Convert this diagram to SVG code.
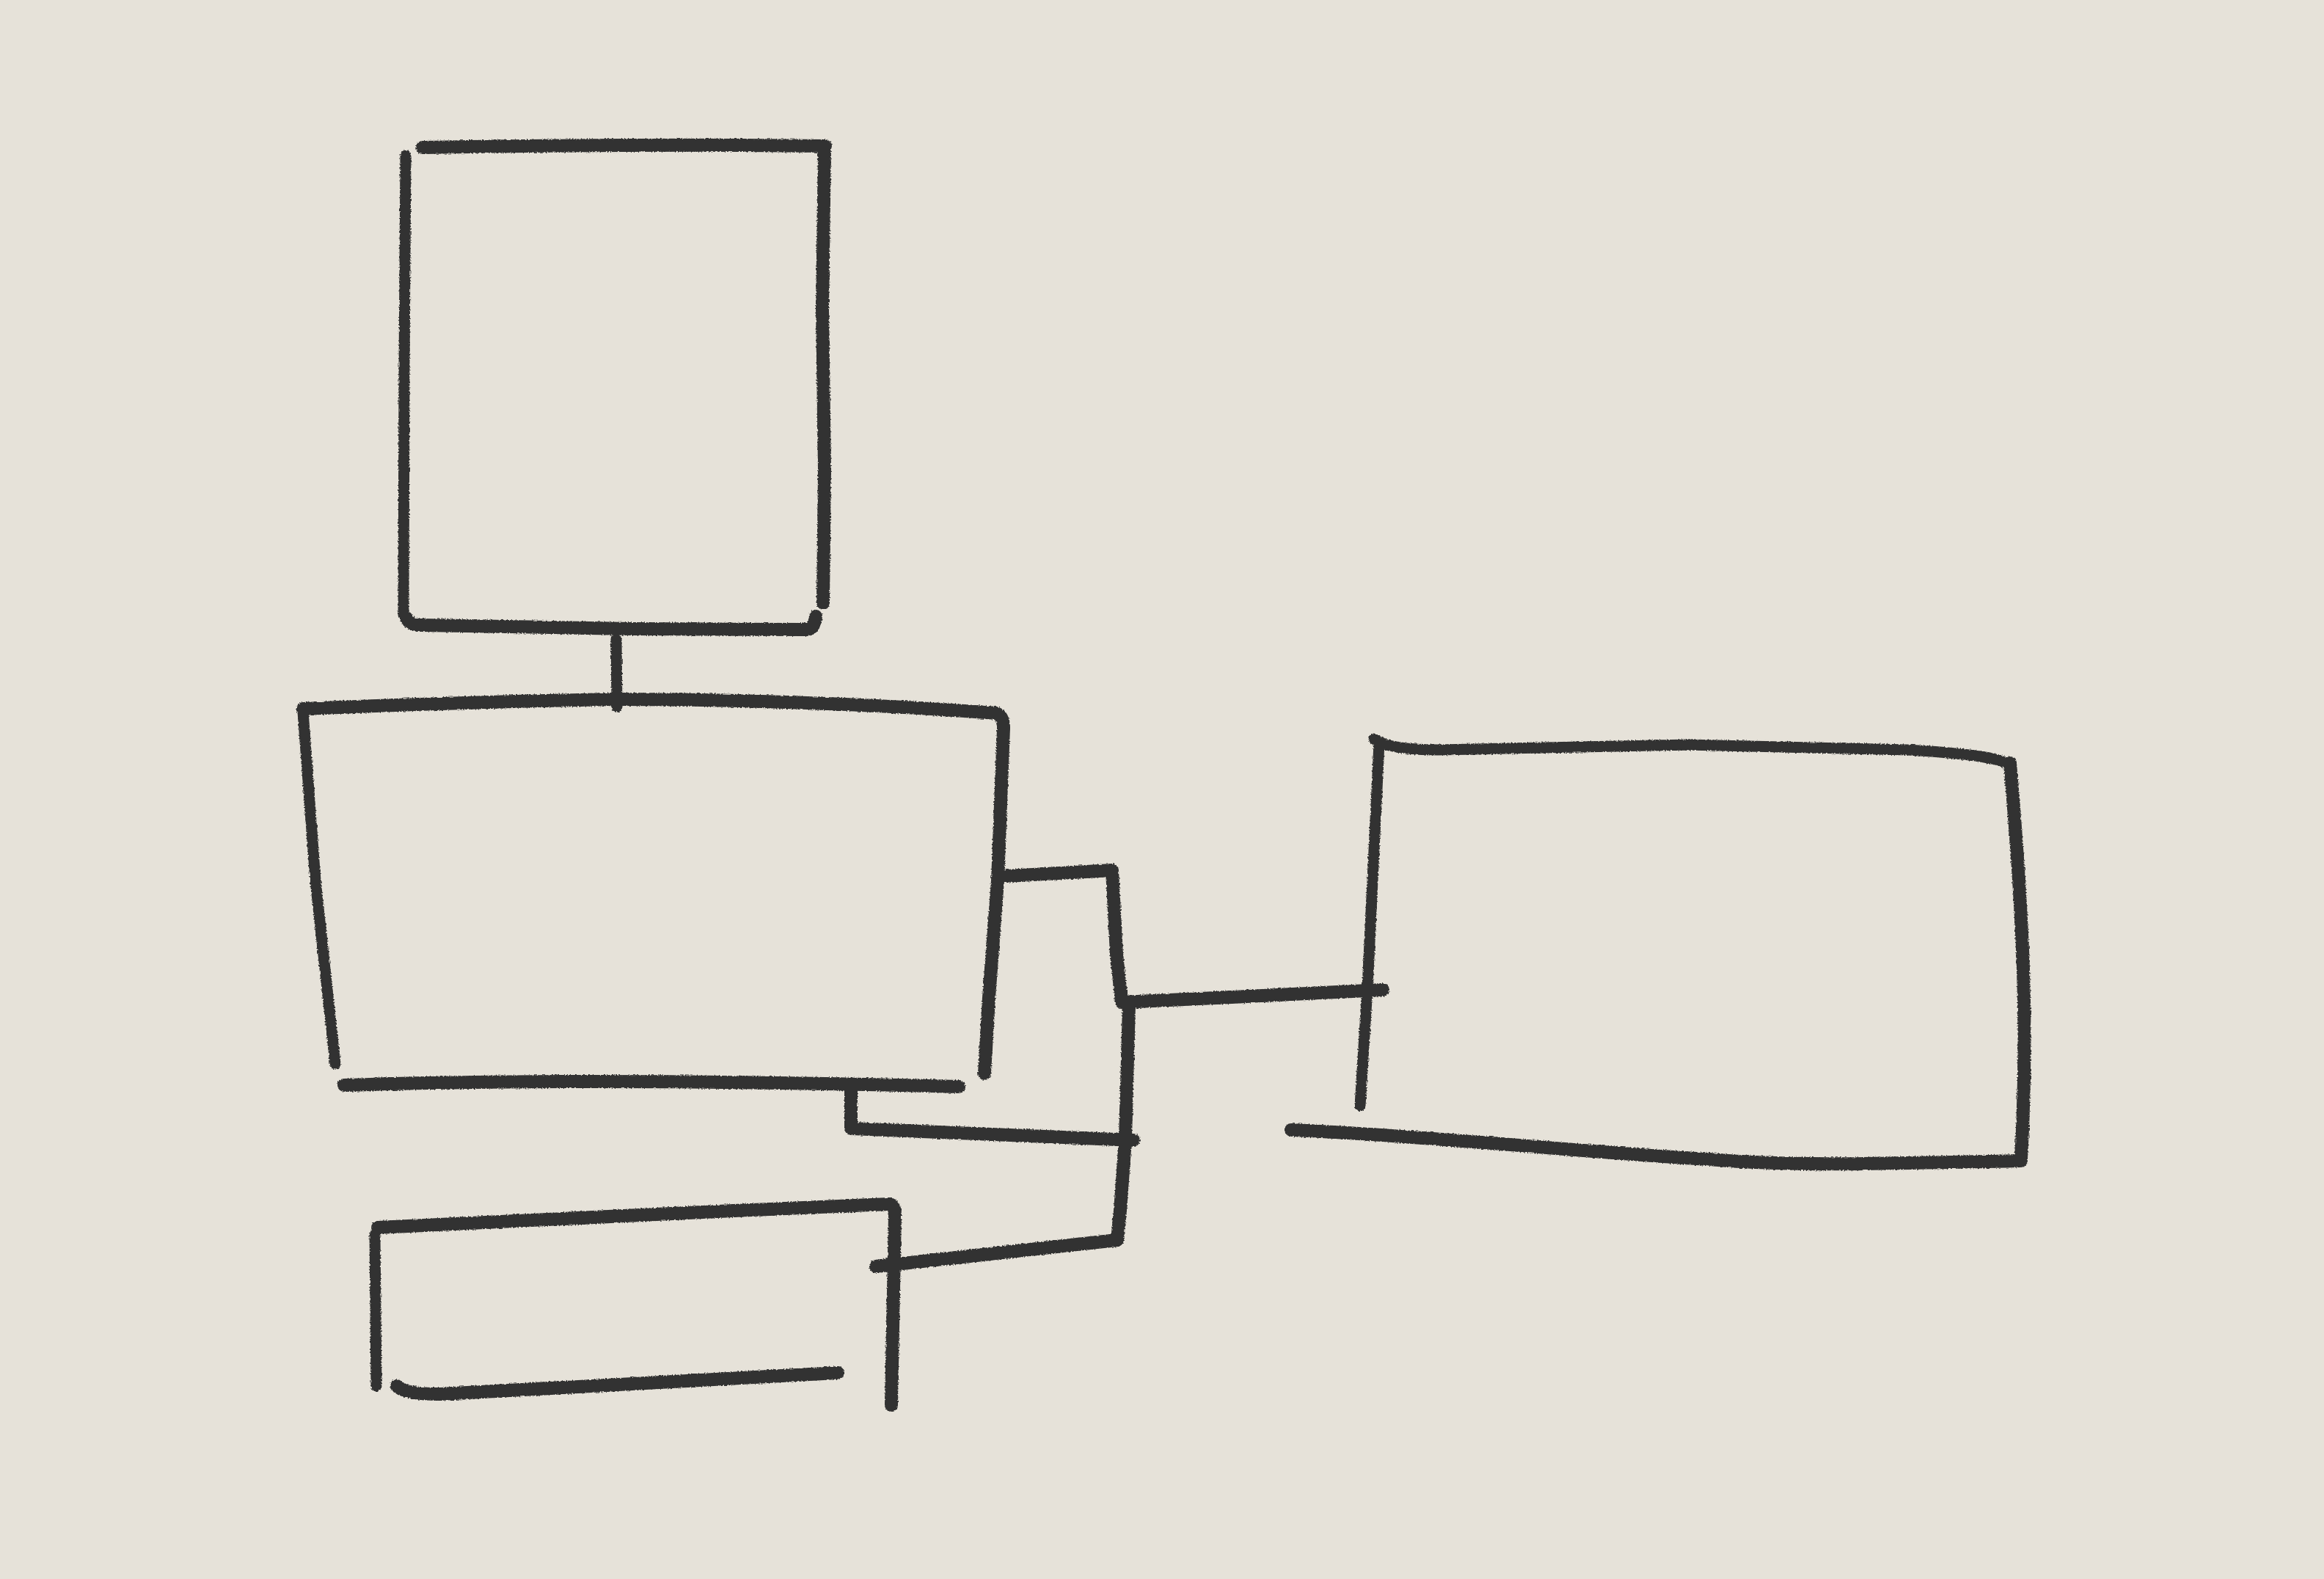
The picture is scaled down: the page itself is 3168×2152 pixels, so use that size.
<svg xmlns="http://www.w3.org/2000/svg" width="3168" height="2152" viewBox="0 0 3168 2152">
<style>
.s{fill:none;stroke:#333;stroke-width:18;stroke-linecap:round;stroke-linejoin:round}
.t{stroke-width:15}
</style>
<defs>
<filter id="rough" x="-5%" y="-5%" width="110%" height="110%">
<feTurbulence type="fractalNoise" baseFrequency="0.5" numOctaves="2" seed="3" result="n"/>
<feDisplacementMap in="SourceGraphic" in2="n" scale="4" xChannelSelector="R" yChannelSelector="G"/>
</filter>
<marker id="arr" viewBox="0 0 10 10" refX="9" refY="5" markerWidth="2.2" markerHeight="1.8" orient="auto" markerUnits="strokeWidth">
<path d="M0,0 L10,5 L0,10 Z" fill="#333"/>
</marker>
</defs>
<rect width="3168" height="2152" fill="#e6e2d9"/>
<g filter="url(#rough)">
<g id="node-a">
<path class="s" d="M576,201 C700,199 900,196 1125,199"/>
<path class="s" d="M1124,201 L1121,420 L1124,640 L1122,822"/>
<path class="s t" d="M553,212 L551,500 L550,838"/>
<path class="s" d="M554,842 Q558,852 575,852 L860,857 L1100,858 Q1111,856 1112,840"/>
</g>
<g id="node-b">
<path class="s" d="M413,966 Q620,957 840,953 Q1100,953 1358,972 Q1368,976 1368,992"/>
<path class="s" d="M1368,992 L1360,1200 L1348,1360 L1342,1463"/>
<path class="s t" d="M413,970 L430,1200 L457,1450"/>
<path class="s" d="M469,1479 Q800,1468 1307,1481"/>
</g>
<g id="node-c">
<path class="s t" d="M1873,1007 Q1892,1022 1960,1022 L2300,1015 L2600,1022 Q2738,1030 2740,1045"/>
<path class="s" d="M2740,1040 C2758,1250 2765,1400 2755,1580"/>
<path class="s t" d="M1880,1013 L1864,1347 L1854,1507"/>
<path class="s" d="M1760,1540 C1950,1548 2150,1570 2330,1580 C2450,1590 2560,1586 2755,1582"/>
</g>
<g id="node-d">
<path class="s" d="M515,1673 L1000,1650 L1212,1641 Q1220,1642 1220,1655 L1215,1915"/>
<path class="s t" d="M511,1683 L513,1889"/>
<path class="s" d="M541,1889 Q550,1900 600,1900 L1142,1871"/>
</g>
<g id="connectors">
<path class="s t" d="M840,871 L841,963"/>
<path class="s" d="M1372,1194 L1516,1186 L1522,1300 L1529,1366 L1700,1358 L1885,1349"/>
<path class="s" d="M1539,1370 L1534,1553 L1527,1650 L1523,1690 L1194,1726" marker-end="url(#arr)"/>
<path class="s" d="M1160,1484 L1160,1538 L1545,1554"/>
</g>
</g>
</svg>
